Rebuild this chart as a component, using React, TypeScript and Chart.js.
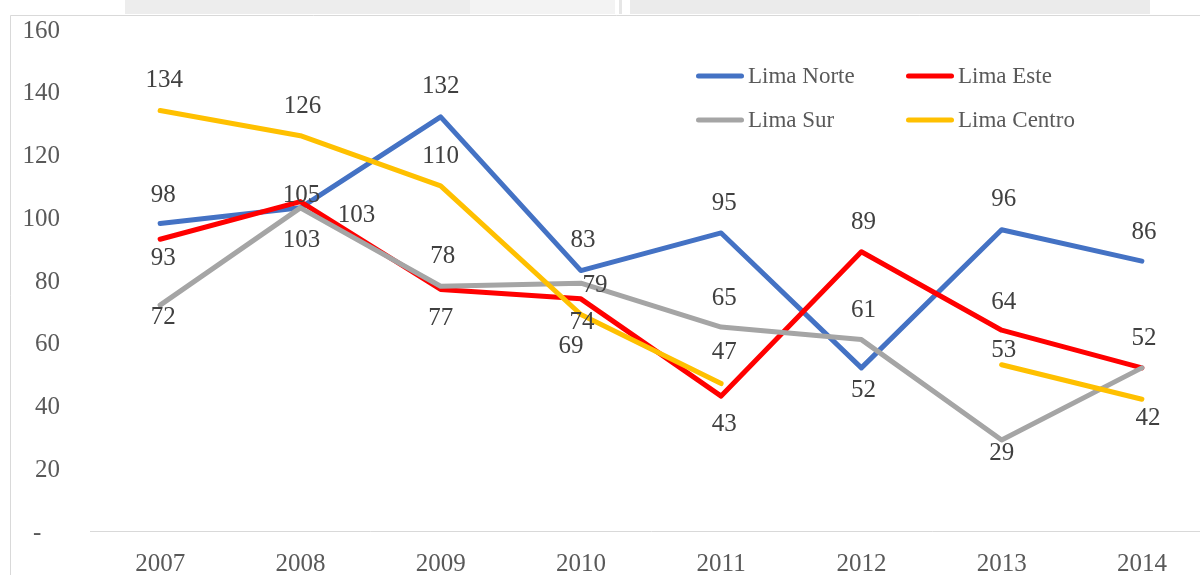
import React, { useEffect, useRef } from "react";
import { Chart, registerables } from "chart.js";

Chart.register(...registerables);

const YEARS = ["2007", "2008", "2009", "2010", "2011", "2012", "2013", "2014"];
const SERIES_NAMES = ["Lima Norte", "Lima Este", "Lima Sur", "Lima Centro"];
const LIMA_NORTE = [98, 103, 132, 83, 95, 52, 96, 86];
const LIMA_ESTE = [93, 105, 77, 74, 43, 89, 64, 52];
const LIMA_SUR = [72, 103, 78, 79, 65, 61, 29, 52];
const LIMA_CENTRO = [134, 126, 110, 69, 47, null, 53, 42];
const Y_TICKS = [0, 20, 40, 60, 80, 100, 120, 140, 160];

const COLORS = ["#4472C4", "#FF0000", "#A5A5A5", "#FFC000"];

// label offsets relative to each point (style only), null = no label
const LABEL_OFFSETS: (number[] | null)[][] = [
  [[3, -30], [56, 6], [0, -32], [2, -32], [3, -32], [2, 21], [2, -32], [2, -31]],
  [[3, 17], [1, -8], [0, 27], [1, 22], [3, 26], [2, -31], [2, -30], [2, -31]],
  [[3, 10], [1, 31], [2, -32], [14, 0], [3, -31], [2, -31], [0, 11], null],
  [[4, -32], [2, -31], [0, -31], [-10, 30], [3, -33], null, [2, -16], [6, 17]],
];

const FONT = "'Liberation Serif', 'Times New Roman', serif";

const framePlugin = {
  id: "frame",
  beforeDraw(chart: any) {
    const ctx = chart.ctx;
    ctx.save();
    ctx.fillStyle = "#ffffff";
    ctx.fillRect(0, 0, chart.width, chart.height);
    // faint background band above the frame
    ctx.fillStyle = "#ededed";
    ctx.fillRect(125, 0, 345, 14);
    ctx.fillStyle = "#f3f3f3";
    ctx.fillRect(470, 0, 145, 14);
    ctx.fillStyle = "#e6e6e6";
    ctx.fillRect(619, 0, 3, 14);
    ctx.fillStyle = "#ebebeb";
    ctx.fillRect(630, 0, 520, 14);
    // frame
    ctx.strokeStyle = "#d9d9d9";
    ctx.lineWidth = 1;
    ctx.beginPath();
    ctx.moveTo(10.5, chart.height);
    ctx.lineTo(10.5, 15.5);
    ctx.lineTo(chart.width, 15.5);
    ctx.stroke();
    ctx.restore();
  },
};

const labelsPlugin = {
  id: "valueLabels",
  afterDatasetsDraw(chart: any) {
    const ctx = chart.ctx;
    ctx.save();
    ctx.font = `25px ${FONT}`;
    ctx.fillStyle = "#404040";
    ctx.textAlign = "center";
    ctx.textBaseline = "middle";
    chart.data.datasets.forEach((ds: any, di: number) => {
      const meta = chart.getDatasetMeta(di);
      meta.data.forEach((pt: any, i: number) => {
        const v = ds.data[i];
        const off = LABEL_OFFSETS[di][i];
        if (v === null || v === undefined || !off) return;
        ctx.fillText(String(v), pt.x + off[0], pt.y + off[1] + 2);
      });
    });
    ctx.restore();
  },
  afterDraw(chart: any) {
    // legend drawn inside plot area, two columns
    const ctx = chart.ctx;
    ctx.save();
    ctx.font = `23px ${FONT}`;
    ctx.textAlign = "left";
    ctx.textBaseline = "middle";
    const cols = [698.5, 908.5];
    const rows = [76, 120];
    chart.data.datasets.forEach((ds: any, di: number) => {
      const cx = cols[di % 2];
      const cy = rows[Math.floor(di / 2)];
      ctx.strokeStyle = ds.borderColor;
      ctx.lineWidth = 5;
      ctx.lineCap = "round";
      ctx.beginPath();
      ctx.moveTo(cx, cy);
      ctx.lineTo(cx + 43, cy);
      ctx.stroke();
      ctx.fillStyle = "#595959";
      ctx.fillText(ds.label, cx + 49.5, cy + 1);
    });
    ctx.restore();
  },
};

export default function App() {
  const ref = useRef<HTMLCanvasElement | null>(null);

  useEffect(() => {
    if (!ref.current) return;
    const seriesData = [LIMA_NORTE, LIMA_ESTE, LIMA_SUR, LIMA_CENTRO];
    const chart = new Chart(ref.current, {
      type: "line",
      data: {
        labels: YEARS,
        datasets: seriesData.map((d, i) => ({
          label: SERIES_NAMES[i],
          data: d,
          borderColor: COLORS[i],
          backgroundColor: COLORS[i],
          borderWidth: 5,
          borderCapStyle: "round",
          borderJoinStyle: "round",
          pointRadius: 0,
          pointHoverRadius: 0,
          tension: 0,
          spanGaps: false,
          order: 3 - i,
        })),
      },
      options: {
        responsive: false,
        animation: false,
        events: [],
        layout: { padding: { left: 10, right: 10, top: 29, bottom: 0 } },
        plugins: {
          legend: { display: false },
          tooltip: { enabled: false },
        },
        scales: {
          x: {
            offset: true,
            grid: { display: false, drawTicks: false },
            border: { display: true, color: "#d9d9d9", width: 1 },
            ticks: {
              color: "#595959",
              font: { family: FONT, size: 25 },
              padding: 18,
              maxRotation: 0,
            },
            afterFit: (s: any) => {
              s.height = 44;
            },
          },
          y: {
            min: 0,
            max: 160,
            grid: { display: false, drawTicks: false },
            border: { display: false },
            afterBuildTicks: (s: any) => {
              s.ticks = Y_TICKS.map((v) => ({ value: v }));
            },
            ticks: {
              color: "#595959",
              font: { family: FONT, size: 25 },
              padding: 30,
              labelOffset: 2,
              callback: (v: any) => (Number(v) === 0 ? "-   " : String(v)),
            },
            afterFit: (s: any) => {
              s.width = 80;
              s.paddingTop = 0;
              s.paddingBottom = 0;
            },
          },
        },
      },
      plugins: [framePlugin, labelsPlugin],
    });
    return () => chart.destroy();
  }, []);

  return (
    <div
      style={{
        position: "absolute",
        left: 0,
        top: 0,
        width: 1200,
        height: 575,
        overflow: "hidden",
        background: "#fff",
      }}
    >
      <canvas ref={ref} width={1222} height={575} style={{ display: "block", width: 1222, height: 575 }} />
    </div>
  );
}
